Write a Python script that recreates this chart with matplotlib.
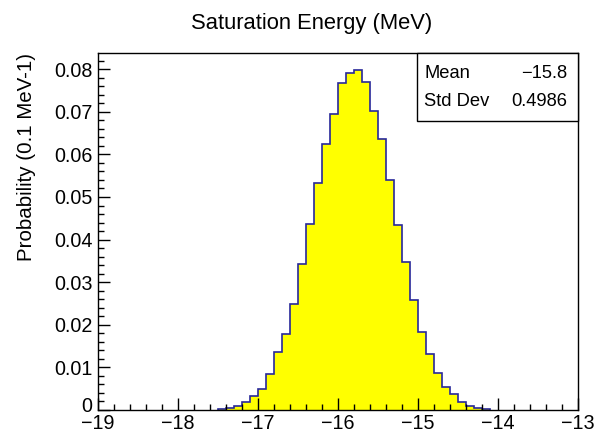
import numpy as np
import matplotlib
matplotlib.use("Agg")
import matplotlib.pyplot as plt
import matplotlib.transforms as mtransforms
from matplotlib.ticker import MultipleLocator, FixedLocator
from matplotlib.patches import Rectangle

# ---- data ----
title = "Saturation Energy (MeV)"
ylabel = "Probability (0.1 MeV-1)"
bin_start = -17.5
bin_width = 0.1
probabilities = [
    0.0002, 0.0004, 0.0010, 0.0018, 0.0033, 0.0049, 0.0084, 0.0135, 0.0178,
    0.0249, 0.0343, 0.0437, 0.0532, 0.0624, 0.0694, 0.0767, 0.0791, 0.0797,
    0.0769, 0.0701, 0.0636, 0.0540, 0.0434,
    0.0347, 0.0258, 0.0184, 0.0131, 0.0086, 0.0055, 0.0038, 0.0019, 0.0009,
    0.0004, 0.0002,
]
stat_names = ["Mean", "Std Dev"]
stat_values = ["\u221215.8", "0.4986"]
x_ticks = [-19, -18, -17, -16, -15, -14, -13]
y_ticks = [0, 0.01, 0.02, 0.03, 0.04, 0.05, 0.06, 0.07, 0.08]

plt.rcParams['font.family'] = ['Liberation Sans', 'DejaVu Sans']

fig = plt.figure(figsize=(5.96, 4.32), dpi=100)
ax = fig.add_axes([98/596, 1-410/432, 480/596, 357/432])

vals = np.array(probabilities)
edges = bin_start + bin_width * np.arange(len(vals) + 1)
ax.stairs(vals, edges, fill=True, facecolor='#ffff00', edgecolor='none', baseline=0)
ax.stairs(vals, edges, fill=False, color='#28289a', linewidth=1.2, baseline=0)

ax.set_xlim(-19, -13)
ax.set_ylim(0, 0.0838)
ax.xaxis.set_major_locator(FixedLocator(x_ticks))
ax.xaxis.set_minor_locator(MultipleLocator(0.2))
ax.yaxis.set_major_locator(FixedLocator(y_ticks))
ax.yaxis.set_minor_locator(MultipleLocator(0.002))
ax.set_xticklabels([("\u2212%d" % abs(t)) if t < 0 else str(t) for t in x_ticks])
ax.set_yticklabels(["0" if t == 0 else ("%.2f" % t) for t in y_ticks])
ax.tick_params(which='both', direction='in', width=1, colors='black')
ax.tick_params(which='major', length=8.5, labelsize=14.2)
ax.tick_params(which='minor', length=4.3)
ax.tick_params(axis='x', which='major', pad=3)
ax.tick_params(axis='y', which='major', pad=4)
for s in ax.spines.values():
    s.set_linewidth(1.0)

# lift the "0" label slightly, as in the reference
zero_lbl = ax.get_yticklabels()[0]
zero_lbl.set_transform(zero_lbl.get_transform() +
                       mtransforms.ScaledTranslation(0, 6/100, fig.dpi_scale_trans))

ax.set_ylabel(ylabel, fontsize=14.8, loc='top', labelpad=13)
fig.text(312/596, 1-23/432, title, fontsize=15.8, ha='center', va='center')

# stats box
bx0 = (417-98)/480
by0 = (410-121)/357
ax.add_patch(Rectangle((bx0, by0), 1-bx0, 1-by0, transform=ax.transAxes,
                       facecolor='white', edgecolor='black', linewidth=1.0,
                       zorder=5, clip_on=False))
rows_y = [(410-78)/357, (410-106)/357]
for name, val, yy in zip(stat_names, stat_values, rows_y):
    ax.text((424-98)/480, yy, name, transform=ax.transAxes, fontsize=13.2,
            ha='left', va='baseline', zorder=6)
    ax.text((567-98)/480, yy, val, transform=ax.transAxes, fontsize=13.2,
            ha='right', va='baseline', zorder=6)

fig.savefig("out.png", dpi=100)
